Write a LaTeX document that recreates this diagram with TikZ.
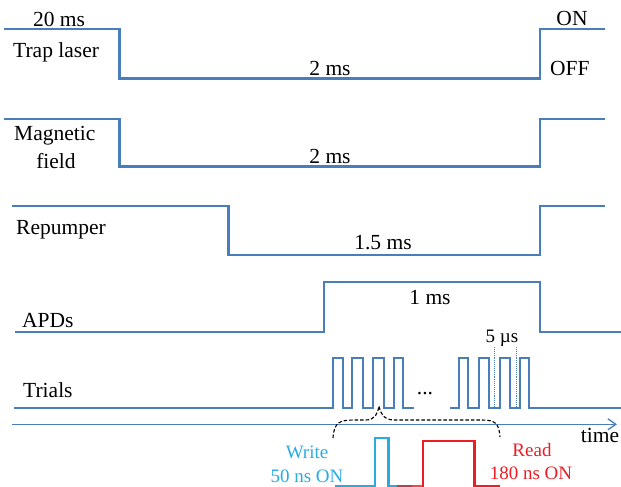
\documentclass[tikz,border=0pt]{standalone}
\usepackage{fontspec}
\setmainfont{Liberation Serif}
\usetikzlibrary{arrows.meta}
\definecolor{sig}{HTML}{4A7EBB}
\definecolor{wblue}{HTML}{29ABE2}
\definecolor{rred}{HTML}{EE1D23}
\definecolor{mid}{HTML}{B5404F}
\tikzset{
  sigline/.style={draw=sig, line width=2.4pt, line join=miter},
  pulses/.style={draw=sig, line width=2pt, line join=miter},
  lbl/.style={inner sep=0pt, font=\fontsize{21.5}{26}\selectfont, text=black},
  slbl/.style={inner sep=0pt, font=\fontsize{19}{23}\selectfont, text=black},
}
\begin{document}
\begin{tikzpicture}[x=1pt,y=-1pt]
\useasboundingbox (0,0) rectangle (621,487);
% signal traces
\draw[sigline] (4,29.3) -- (119.5,29.3) -- (119.5,78.7) -- (540,78.7) -- (540,29.3) -- (605,29.3);
\draw[sigline] (4,119) -- (119.5,119) -- (119.5,166.5) -- (540,166.5) -- (540,119) -- (605,119);
\draw[sigline] (12,205.7) -- (228.5,205.7) -- (228.5,255) -- (540,255) -- (540,206) -- (605,206);
\draw[sigline] (15,332) -- (324,332) -- (324,282) -- (540,282) -- (540,332) -- (621,332);
% trials
\draw[pulses] (14,408.3) -- (333.3,408.3)
  -- (333.3,357.7) -- (343.3,357.7) -- (343.3,408.3) -- (352.3,408.3)
  -- (352.3,357.7) -- (362.7,357.7) -- (362.7,408.3) -- (373.3,408.3)
  -- (373.3,357.7) -- (384,357.7) -- (384,408.3) -- (394,408.3)
  -- (394,357.7) -- (403.3,357.7) -- (403.3,408.3) -- (414,408.3);
\draw[pulses] (450,408.3) -- (459.3,408.3)
  -- (459.3,357.7) -- (468.3,357.7) -- (468.3,408.3) -- (479.3,408.3)
  -- (479.3,357.7) -- (489.3,357.7) -- (489.3,408.3) -- (500,408.3)
  -- (500,357.7) -- (510,357.7) -- (510,408.3) -- (520,408.3)
  -- (520,357.7) -- (529.3,357.7) -- (529.3,408.3) -- (621,408.3);
\draw[sig, densely dotted, line width=0.9pt] (494.7,347) -- (494.7,408);
\draw[sig, densely dotted, line width=0.9pt] (516,347) -- (516,408);
% time axis
\draw[sig, line width=1.3pt, -{Straight Barb[length=8pt,width=11pt]}] (12,424.3) -- (617,424.3);
% brace
\draw[black, dash pattern=on 3.5pt off 2pt, line width=1.1pt] (333,438) .. controls (334,422) and (340,420) .. (354,420) -- (366,420)
  .. controls (375,420) and (378,413) .. (379,406)
  .. controls (380,413) and (384,420) .. (394,420) -- (482,420)
  .. controls (496,420) and (499,424) .. (500,437);
% write / read pulses
\draw[wblue, line width=2pt, line join=miter] (335,486) -- (374.5,486) -- (374.5,438) -- (388,438);
\draw[wblue, line width=3pt] (388,436.5) -- (388,486.5) -- (397,486.5);
\draw[mid, line width=2.2pt] (397,486.5) -- (412,486.5);
\draw[rred!80, line width=2.2pt] (412,486.5) -- (423,486.5);
\draw[rred, line width=2.4pt, line join=miter] (423,486.5) -- (423,441) -- (474.5,441);
\draw[rred, line width=3pt] (474.5,440) -- (474.5,486) -- (500,486);
% labels
\node[lbl, anchor=base] (t20) at (59,27) {20 ms};
\node[lbl, anchor=base west] (ttrap) at (13,58) {Trap laser};
\node[lbl, anchor=base] (t2a) at (330,75) {2 ms};
\node[lbl, anchor=base] (ton) at (572,26) {ON};
\node[lbl, anchor=base west] (toff) at (550,76) {OFF};
\node[lbl, anchor=base west] (tmag) at (14,140) {Magnetic};
\node[lbl, anchor=base] (tfield) at (56,168) {field};
\node[lbl, anchor=base] (t2b) at (330,163) {2 ms};
\node[lbl, anchor=base west] (trep) at (16,234) {Repumper};
\node[lbl, anchor=base] (t15) at (383,249) {1.5 ms};
\node[lbl, anchor=base west] (tapd) at (22,327.3) {APDs};
\node[lbl, anchor=base] (t1) at (430,304) {1 ms};
\node[slbl, anchor=base] (t5) at (502,342.5) {5 µs};
\node[lbl, anchor=base west] (ttri) at (23,397) {Trials};
\node[lbl, anchor=base] (tdots) at (425,394) {...};
\node[lbl, anchor=base] (ttime) at (600,442) {time};
\node[slbl, anchor=base, text=wblue] (tw1) at (307,458) {Write};
\node[slbl, anchor=base, text=wblue] (tw2) at (307,482) {50 ns ON};
\node[slbl, anchor=base, text=rred] (tr1) at (532,456) {Read};
\node[slbl, anchor=base, text=rred] (tr2) at (531,479) {180 ns ON};
\end{tikzpicture}
\end{document}
